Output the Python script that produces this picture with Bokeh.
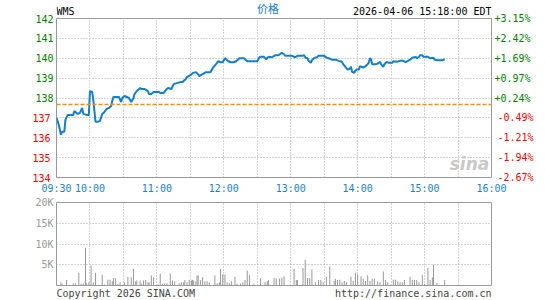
from bokeh.plotting import figure
from bokeh.models import (LinearAxis, FixedTicker, Span, Label, Legend, LegendItem, Range1d)
from bokeh.layouts import column
from bokeh.core.properties import value
from bokeh.embed import file_html
from bokeh.resources import INLINE

# ---------------- data ----------------
symbol = "WMS"
stamp = "2026-04-06 15:18:00 EDT"
series_name = "价格"
footer_left = "Copyright 2026 SINA.COM"
footer_right = "http://finance.sina.com.cn"
prev_close = 137.67

# minutes after 09:30 and price
price_min = [0, 2, 4, 5, 7, 8, 10, 15, 16, 19, 21, 23, 24, 27, 29, 30, 32, 33, 35, 37, 39, 41, 43, 45, 47, 49,
             50, 51, 56, 58, 59, 61, 65, 67, 69, 70, 72, 75, 76, 79, 82, 83, 85, 87, 92, 93, 96, 98, 100, 103,
             105, 108, 111, 113, 115, 117, 120, 122, 125, 127, 128, 131, 134, 138, 140, 143, 145, 147, 149, 151,
             154, 156, 159, 161, 164, 168, 171, 180, 182, 183, 186, 188, 190, 193, 196, 199, 202, 204, 205, 211,
             214, 216, 220, 222, 223, 225, 226, 228, 229, 231, 234, 235, 240, 242, 244, 247, 250, 253, 256, 257,
             259, 261, 263, 264, 265, 267, 268, 269, 271, 272, 275, 277, 279, 280, 281, 282, 283, 286, 288, 290,
             291, 293, 294, 296, 298, 301, 302, 305, 308, 311, 313, 315, 317, 319, 322, 323, 325, 326, 328, 329,
             333, 335, 338, 339, 341, 346, 348]
price_val = [137.0, 136.65, 136.15, 136.3, 136.3, 136.9, 137.15, 137.15, 137.35, 137.2, 137.25, 137.5, 137.2,
             137.15, 137.15, 138.35, 138.3, 137.9, 136.8, 136.8, 136.85, 137.2, 137.3, 137.45, 137.5, 137.6,
             137.85, 138.05, 138.05, 137.8, 138.0, 138.1, 138.0, 137.8, 138.0, 138.2, 138.35, 138.5, 138.45,
             138.45, 138.35, 138.2, 138.2, 138.3, 138.3, 138.25, 138.25, 138.4, 138.5, 138.45, 138.7, 138.75,
             138.8, 138.8, 138.9, 139.05, 139.15, 139.25, 139.3, 139.2, 139.1, 139.2, 139.3, 139.3, 139.5,
             139.7, 139.85, 139.8, 139.8, 140.0, 139.85, 139.8, 139.8, 139.85, 140.0, 140.0, 139.85, 139.85,
             140.05, 140.07, 140.07, 139.95, 140.07, 140.05, 140.15, 140.15, 140.27, 140.2, 140.12, 140.12,
             140.05, 140.12, 140.12, 140.15, 140.03, 140.0, 139.87, 139.77, 139.9, 140.0, 140.07, 140.12,
             140.12, 140.03, 140.0, 139.93, 139.93, 139.87, 139.82, 139.7, 139.57, 139.43, 139.48, 139.57,
             139.32, 139.27, 139.37, 139.43, 139.43, 139.6, 139.53, 139.6, 139.7, 139.78, 140.0, 139.95, 139.7,
             139.7, 139.73, 139.82, 139.7, 139.57, 139.7, 139.82, 139.77, 139.77, 139.85, 139.82, 139.87,
             139.87, 139.8, 139.87, 139.93, 140.03, 140.07, 140.0, 140.07, 140.15, 140.15, 140.07, 140.07,
             140.0, 140.03, 139.93, 139.9, 139.9, 139.95]

# minutes after 09:30 and volume (shares)
vol_min = [0, 4, 5, 9, 15, 17, 20, 22, 24, 26, 27, 29, 31, 33, 35, 37, 41, 43, 46, 48, 50, 51, 53, 55, 57, 59,
           61, 64, 67, 69, 71, 72, 75, 76, 78, 80, 82, 83, 85, 87, 91, 93, 95, 97, 99, 102, 104, 106, 110, 112,
           114, 115, 117, 119, 121, 122, 123, 125, 126, 127, 129, 131, 133, 135, 137, 142, 144, 146, 147, 149,
           151, 153, 155, 157, 160, 162, 165, 167, 169, 171, 173, 177, 183, 187, 189, 190, 195, 197, 200, 202,
           204, 213, 215, 216, 221, 223, 225, 227, 229, 232, 235, 237, 239, 242, 245, 249, 250, 252, 254, 256,
           258, 260, 264, 266, 268, 270, 273, 275, 277, 279, 281, 283, 285, 288, 290, 293, 295, 297, 302, 304,
           306, 308, 310, 312, 317, 319, 321, 323, 325, 328, 330, 333, 335, 337, 338, 341, 348]
vol_val = [4400, 800, 400, 1350, 550, 550, 3100, 400, 550, 9100, 550, 800, 4800, 800, 3100, 200, 2600, 250, 1400,
           1400, 1000, 1800, 1750, 400, 800, 200, 800, 2100, 2000, 4050, 1000, 1200, 1200, 400, 1200, 1350, 800,
           800, 2400, 2000, 250, 2900, 400, 550, 550, 2900, 1200, 950, 550, 800, 800, 1350, 800, 1350, 1200,
           1350, 1200, 1000, 2400, 2400, 1350, 2000, 1000, 1000, 800, 2400, 550, 800, 4000, 2800, 2600, 800,
           550, 1000, 2100, 400, 400, 800, 1350, 3600, 2500, 400, 1750, 800, 1000, 1300, 1800, 1700, 1700, 1900,
           2200, 4000, 1300, 1300, 4200, 6200, 1800, 1800, 3900, 800, 1300, 1300, 800, 2100, 4600, 1100, 1600,
           1300, 1400, 800, 1100, 800, 2100, 1100, 3100, 2700, 2200, 1600, 1100, 2500, 1100, 1600, 1700, 1000,
           800, 3400, 1300, 800, 1400, 1400, 1000, 800, 800, 1300, 2100, 1300, 1300, 1300, 800, 2500, 400, 4200,
           1300, 1900, 5000, 600, 1300]

time_ticks = [0, 30, 60, 90, 120, 150, 180, 210, 240, 270, 300, 330, 360, 390]
time_labels = ["09:30", "10:00", "", "11:00", "", "12:00", "", "13:00", "", "14:00", "", "15:00", "", "16:00"]
price_ticks_up = [138, 139, 140, 141, 142]
price_ticks_dn = [134, 135, 136, 137]
pct_labels_up = ["+0.24%", "+0.97%", "+1.69%", "+2.42%", "+3.15%"]
pct_labels_dn = ["-2.67%", "-1.94%", "-1.21%", "-0.49%"]
vol_ticks = [5000, 10000, 15000, 20000]
vol_labels = ["5K", "10K", "15K", "20K"]

# ---------------- style ----------------
MONO = "DejaVu Sans Mono"
FS = "10px"
CW = 6.02  # advance of one mono glyph at 10px
BLUE = "#1080cc"
LBLUE = "#1a82cc"
GREEN = "#008000"
RED = "#ff0000"
GRIDC = "#a8a8a8"
FRAME = "#999999"
L, R = 56, 54

xr = Range1d(0, 390)


def style_axis(ax, color, standoff=3):
    ax.axis_line_color = None
    ax.major_tick_line_color = None
    ax.minor_tick_line_color = None
    ax.major_tick_out = 0
    ax.major_tick_in = 0
    ax.major_label_text_font = MONO
    ax.major_label_text_font_size = FS
    ax.major_label_text_color = color
    ax.major_label_standoff = standoff


def bare(height, top=0, bottom=0):
    f = figure(width=545, height=height, x_range=xr, y_range=Range1d(0, height - top - bottom),
               x_axis_location=None, y_axis_location=None, output_backend="svg", toolbar_location=None,
               min_border_left=L, min_border_right=R, min_border_top=top, min_border_bottom=bottom)
    f.outline_line_color = None
    f.grid.visible = False
    return f


# ---------------- header (page 0..18 px) ----------------
head = bare(18)
head.text(x=[0], y=[7], text=[symbol], text_font=value(MONO), text_font_size=FS, text_color="black",
          text_baseline="middle")
head.text(x=[390], y=[7], text=[stamp], text_font=value(MONO), text_font_size=FS, text_color="black",
          text_baseline="middle", text_align="right")
dummy = head.line(x=[], y=[], line_color=BLUE, line_width=3.5)
legend = Legend(items=[LegendItem(label=series_name, renderers=[dummy])], location=(183, 2),
                background_fill_alpha=0, border_line_color=None, padding=0, margin=0, spacing=0,
                glyph_width=10, glyph_height=12, label_height=12, label_standoff=8,
                label_text_font="Noto Sans CJK SC", label_text_font_size="11px", label_text_color=BLUE)
head.add_layout(legend)

# ---------------- price panel (overlaps header by 8 px, transparent border) ----------------
p1 = figure(width=545, height=186, x_range=xr, y_range=Range1d(134, 142),
            x_axis_location=None, y_axis_location=None, output_backend="svg", toolbar_location=None,
            min_border_left=L, min_border_right=R, min_border_top=8, min_border_bottom=18)
p1.margin = (-8, 0, 0, 0)
p1.border_fill_alpha = 0
p1.background_fill_color = "white"
p1.outline_line_color = FRAME
p1.outline_line_width = 1

p1.xgrid.ticker = FixedTicker(ticks=time_ticks[1:-1])
p1.ygrid.ticker = FixedTicker(ticks=[135, 136, 137, 138, 139, 140, 141])
for g in (p1.xgrid, p1.ygrid):
    g.grid_line_color = GRIDC
    g.grid_line_dash = "1 2"
    g.grid_line_width = 1

xa = LinearAxis(ticker=FixedTicker(ticks=time_ticks),
                major_label_overrides={t: l for t, l in zip(time_ticks, time_labels)})
style_axis(xa, LBLUE, standoff=5)
p1.add_layout(xa, "below")

# inner axes (green) sit next to the frame; outer ones (red) are pulled back onto the same column
ly_up = LinearAxis(ticker=FixedTicker(ticks=price_ticks_up))
style_axis(ly_up, GREEN)
p1.add_layout(ly_up, "left")
ly_dn = LinearAxis(ticker=FixedTicker(ticks=price_ticks_dn))
style_axis(ly_dn, RED, standoff=-round(3 * CW))
p1.add_layout(ly_dn, "left")

ry_up = LinearAxis(ticker=FixedTicker(ticks=price_ticks_up),
                   major_label_overrides={t: l for t, l in zip(price_ticks_up, pct_labels_up)})
style_axis(ry_up, GREEN)
p1.add_layout(ry_up, "right")
ry_dn = LinearAxis(ticker=FixedTicker(ticks=price_ticks_dn),
                   major_label_overrides={t: l for t, l in zip(price_ticks_dn, pct_labels_dn)})
style_axis(ry_dn, RED, standoff=-round(6 * CW))
p1.add_layout(ry_dn, "right")

p1.add_layout(Span(location=prev_close, dimension="width", line_color="#ff8c00",
                   line_dash="4 2", line_width=1.5))

p1.add_layout(Label(x=388, y=134.2, text="sina", text_align="right", text_font="DejaVu Sans",
                    text_font_style="bold italic", text_font_size="17px", text_color="#c8c8c8"))

p1.line(price_min, price_val, line_color=BLUE, line_width=2)

# ---------------- volume panel ----------------
p2 = figure(width=545, height=90, x_range=xr, y_range=Range1d(0, 20000),
            x_axis_location=None, y_axis_location=None, output_backend="svg", toolbar_location=None,
            min_border_left=L, min_border_right=R, min_border_top=6, min_border_bottom=1)
p2.outline_line_color = FRAME
p2.outline_line_width = 1
p2.xgrid.ticker = FixedTicker(ticks=time_ticks[1:-1])
p2.ygrid.ticker = FixedTicker(ticks=[5000, 10000, 15000])
for g in (p2.xgrid, p2.ygrid):
    g.grid_line_color = GRIDC
    g.grid_line_dash = "1 2"
    g.grid_line_width = 1

va = LinearAxis(ticker=FixedTicker(ticks=vol_ticks),
                major_label_overrides={t: l for t, l in zip(vol_ticks, vol_labels)})
style_axis(va, "#999999")
p2.add_layout(va, "left")

p2.vbar(x=vol_min, top=vol_val, width=0.9, bottom=0, fill_color="#999999", line_color=None)

# ---------------- footer (page 286..300 px) ----------------
foot = bare(14)
foot.text(x=[0], y=[7], text=[footer_left], text_font=value(MONO), text_font_size=FS, text_color="#444444",
          text_baseline="middle")
foot.text(x=[390], y=[7], text=[footer_right], text_font=value(MONO), text_font_size=FS, text_color="#444444",
          text_baseline="middle", text_align="right")

layout = column(head, p1, p2, foot, spacing=0)
open("out.html", "w").write(file_html(layout, INLINE))
